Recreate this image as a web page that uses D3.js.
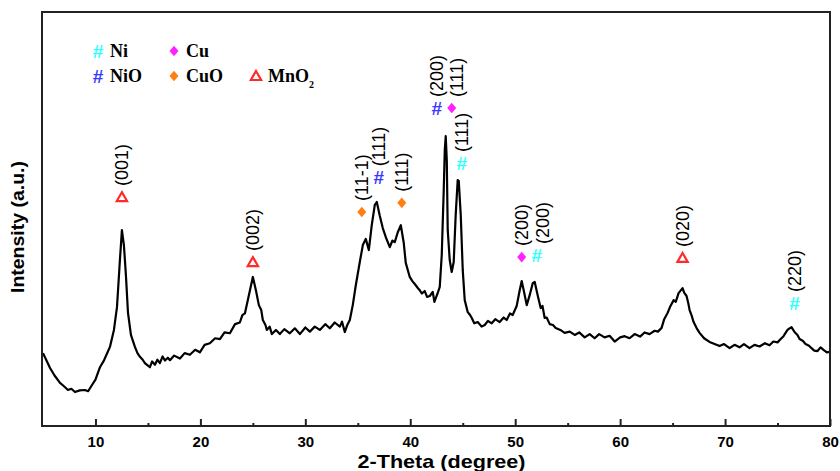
<!DOCTYPE html>
<html>
<head>
<meta charset="utf-8">
<script src="https://cdn.jsdelivr.net/npm/d3@7"></script>
<style>
  body { margin: 0; background: #fff; }
  svg { display: block; }
</style>
</head>
<body>
<svg id="svg" width="840" height="471"></svg>
<script>
// XRD pattern
var twoTheta = [5.0,5.3,5.67,6.1,6.62,7.0,7.38,7.7,8.05,8.5,9.0,9.3,9.67,10.0,10.43,10.8,11.1,11.38,11.76,12.05,
  12.33,12.52,12.71,12.9,13.1,13.38,13.76,14.0,14.24,14.5,14.71,15.0,15.19,15.4,15.67,15.9,16.14,16.4,16.62,16.9,
  17.1,17.5,18.05,18.5,19.0,19.5,19.95,20.4,20.9,21.4,21.86,22.3,22.81,23.3,23.76,24.0,24.24,24.62,25.0,25.29,
  25.57,25.8,25.95,26.2,26.33,26.6,26.81,27.2,27.57,28.0,28.52,29.0,29.48,30.0,30.43,30.9,31.38,31.9,32.33,32.8,
  33.29,33.5,33.76,34.0,34.24,34.52,34.81,35.19,35.48,35.76,36.05,36.33,36.62,36.81,37.1,37.38,37.67,38.05,38.3,38.52,
  38.81,39.1,39.38,39.57,39.95,40.2,40.43,40.7,40.9,41.1,41.38,41.6,41.86,42.14,42.3,42.43,42.6,42.81,43.0,43.19,
  43.29,43.38,43.48,43.57,43.76,43.95,44.14,44.33,44.52,44.62,44.81,45.0,45.19,45.48,45.7,45.86,46.1,46.43,46.8,47.1,
  47.4,47.76,48.1,48.52,48.9,49.19,49.5,49.76,50.14,50.43,50.62,50.81,51.1,51.38,51.67,51.86,52.14,52.43,52.6,52.81,
  53.0,53.29,53.6,53.86,54.3,54.71,55.2,55.67,56.1,56.62,57.1,57.57,58.0,58.52,59.0,59.48,60.0,60.43,60.9,61.38,
  61.9,62.33,62.8,63.29,63.6,63.95,64.2,64.52,64.8,65.1,65.3,65.57,65.95,66.1,66.33,66.5,66.62,66.8,67.0,67.3,
  67.57,68.0,68.52,69.0,69.48,69.9,70.43,70.9,71.38,71.8,72.33,72.8,73.29,73.8,74.24,74.6,75.0,75.3,75.57,75.95,
  76.15,76.33,76.62,76.9,77.1,77.4,77.67,78.0,78.24,78.5,78.81,79.1,79.38,79.7,79.95];
var intensity = [176,160,140,122,104,96,87,90,82,86,87,84,99,112,142,158,175,191,232,287,
  401,473,437,365,273,220,191,176,167,160,152,146,142,156,148,160,152,168,158,165,
  159,170,163,176,172,184,178,196,200,212,210,226,224,246,250,268,272,316,360,328,
  292,280,256,244,232,240,222,232,222,234,224,236,222,238,228,240,232,246,236,250,
  240,252,227,244,256,292,340,396,437,452,425,485,534,541,507,478,456,432,448,444,
  468,485,442,394,360,350,343,334,328,320,326,312,314,324,300,309,320,336,413,570,
  667,700,642,473,401,372,396,510,594,592,510,377,304,275,268,261,248,251,240,244,
  254,248,258,251,262,256,272,268,290,328,350,328,292,316,345,348,316,285,290,261,
  262,246,244,237,232,225,228,220,226,214,222,212,222,214,218,204,214,217,212,222,
  216,226,222,230,228,237,258,273,290,304,300,321,333,322,314,296,280,268,251,236,
  225,212,203,198,193,198,188,196,190,198,188,196,192,200,195,204,202,210,217,232,
  236,239,227,220,210,206,198,194,188,182,181,190,184,178,179];

var xTicks = [10,20,30,40,50,60,70,80];
var xMinor = [15,25,35,45,55,65,75];

// peak annotations
var annDeg   = [12.52,25.0,35.38,37.0,39.19,42.52,43.95,44.9,50.62,52.05,65.95,76.62];
var annLabel = ["(001)","(002)","(11-1)","(111)","(111)","(200)","(111)","(111)","(200)","(200)","(020)","(220)"];
var annPhase = ["MnO2","MnO2","CuO","NiO","CuO","NiO","Cu","Ni","Cu","Ni","MnO2","Ni"];
var annLevel = [553,396,517,601,539,768,768,635,408,413,406,297];

var phases = ["Ni","Cu","NiO","CuO","MnO2"];
var phaseColor = {Ni:"#33ffff", Cu:"#ff22ff", NiO:"#3a3aff", CuO:"#ff7f10", MnO2:"#ff2a2a"};
var phaseSymbol = {Ni:"hash", Cu:"diamond", NiO:"hash", CuO:"diamond", MnO2:"triangle"};

var svg = d3.select("#svg");
var mLeft = 43, mRight = 830, mTop = 12, mBottom = 426;

var x = d3.scaleLinear().domain([5,80]).range([mLeft,mRight]);
var y = d3.scaleLinear().domain([0,1000]).range([mBottom,mTop]);

// curve
var pts = twoTheta.map(function(d,i){ return [d, intensity[i]]; });
var line = d3.line()
  .x(function(d){ return x(d[0]); })
  .y(function(d){ return y(d[1]); });
svg.append("path")
  .datum(pts)
  .attr("d", line)
  .attr("fill","none")
  .attr("stroke","#000")
  .attr("stroke-width",2.2)
  .attr("stroke-linejoin","round");

// x axis, ticks pointing in
var gx = svg.append("g").attr("transform","translate(0,"+mBottom+")");
gx.call(d3.axisBottom(x).tickValues(xTicks).tickSize(-7).tickSizeOuter(0).tickPadding(10));
gx.select(".domain").remove();
gx.selectAll(".tick line").attr("stroke","#222").attr("stroke-width",2);
gx.selectAll(".tick text")
  .attr("font-family","Liberation Sans, Arial, sans-serif")
  .attr("font-size",15).attr("font-weight","bold").attr("fill","#000");

var gm = svg.append("g").attr("transform","translate(0,"+mBottom+")");
gm.call(d3.axisBottom(x).tickValues(xMinor).tickSize(-3).tickSizeOuter(0).tickFormat(""));
gm.select(".domain").remove();
gm.selectAll(".tick line").attr("stroke","#222").attr("stroke-width",2);

// frame
svg.append("rect")
  .attr("x",mLeft-1).attr("y",mTop)
  .attr("width",mRight-mLeft+1).attr("height",mBottom-mTop)
  .attr("fill","none").attr("stroke","#222").attr("stroke-width",2);

// axis titles
svg.append("text")
  .attr("x",(mLeft+mRight)/2 + 5).attr("y",468)
  .attr("text-anchor","middle")
  .attr("font-family","Liberation Sans, Arial, sans-serif")
  .attr("font-size",19).attr("font-weight","bold")
  .attr("textLength",168).attr("lengthAdjust","spacingAndGlyphs")
  .text("2-Theta (degree)");

svg.append("text")
  .attr("transform","translate(24,227) rotate(-90)")
  .attr("text-anchor","middle")
  .attr("font-family","Liberation Sans, Arial, sans-serif")
  .attr("font-size",18).attr("font-weight","bold")
  .attr("textLength",132).attr("lengthAdjust","spacingAndGlyphs")
  .text("Intensity (a.u.)");

function drawSymbol(g, kind, cx, cy, color) {
  if (kind == "hash") {
    g.append("text")
      .attr("x",cx).attr("y",cy).attr("dy","0.36em")
      .attr("text-anchor","middle")
      .attr("font-family","Liberation Sans, Arial, sans-serif")
      .attr("font-size",19).attr("font-weight","bold")
      .attr("fill",color).text("#");
  } else if (kind == "diamond") {
    g.append("path")
      .attr("d", d3.symbol(d3.symbolSquare, 56)())
      .attr("transform","translate("+cx+","+cy+") scale(0.85,1) rotate(45)")
      .attr("fill",color);
  } else {
    g.append("path")
      .attr("d", d3.symbol(d3.symbolTriangle, 46)())
      .attr("transform","translate("+cx+","+(cy+1)+")")
      .attr("fill","#fff").attr("stroke",color).attr("stroke-width",2.2);
  }
}

// annotations
var nudge = {6: 5, 9: 6};   // label shifted off its marker
var ga = svg.append("g");
annDeg.forEach(function(d,i){
  var cx = x(d), cy = y(annLevel[i]);
  drawSymbol(ga, phaseSymbol[annPhase[i]], cx, cy, phaseColor[annPhase[i]]);
  var tx = cx + (nudge[i] || 0), ty = cy - 11;
  ga.append("text")
    .attr("transform","translate("+tx+","+ty+") rotate(-90)")
    .attr("dy","0.36em")
    .attr("font-family","Liberation Sans, Arial, sans-serif")
    .attr("font-size",18)
    .text(annLabel[i]);
});

// legend
var legX = {Ni:98, Cu:174, NiO:98, CuO:174, MnO2:256};
var legY = {Ni:51, Cu:51, NiO:76, CuO:76, MnO2:76};
var gl = svg.append("g");
phases.forEach(function(p){
  drawSymbol(gl, phaseSymbol[p], legX[p], legY[p], phaseColor[p]);
  var t = gl.append("text")
    .attr("x",legX[p]+12).attr("y",legY[p]+6)
    .attr("font-family","Liberation Serif, Times New Roman, serif")
    .attr("font-size",18).attr("font-weight","bold");
  if (p == "MnO2") {
    t.text("MnO");
    t.append("tspan").attr("font-size",10).attr("dy",6).text("2");
  } else {
    t.text(p);
  }
});
</script>
</body>
</html>
